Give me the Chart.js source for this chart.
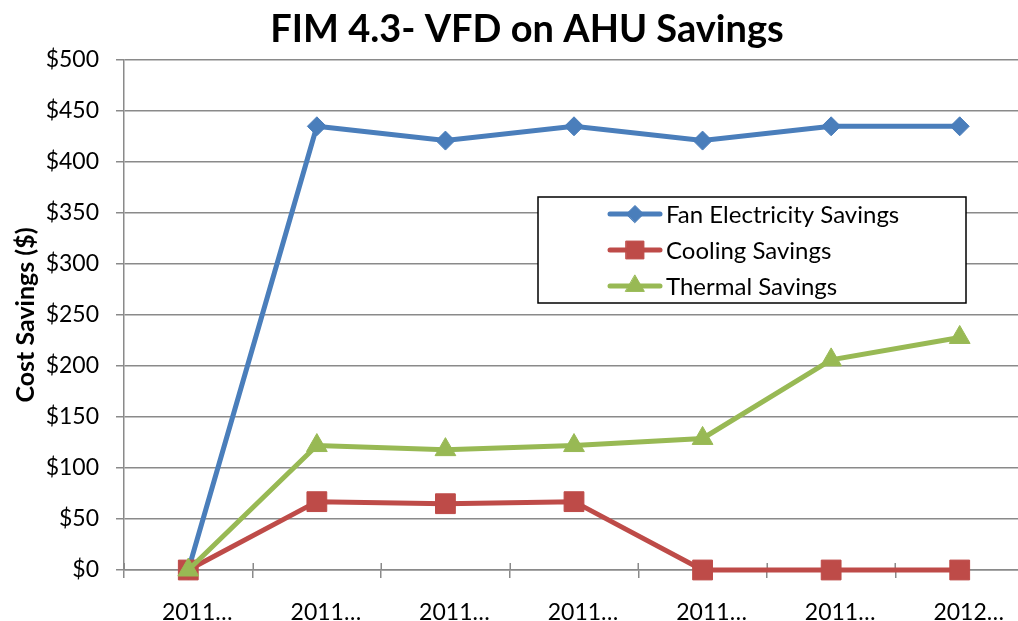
<!DOCTYPE html>
<html><head><meta charset="utf-8">
<script src="https://cdn.jsdelivr.net/npm/chart.js@4.4.1/dist/chart.umd.min.js"></script>
<style>html,body{margin:0;padding:0;overflow:hidden;background:#fff}#wrap{position:absolute;left:0;top:0;width:1039px;height:621px}</style>
</head><body><div id="wrap"><canvas id="c" width="1039" height="621"></canvas></div>
<script>
const chartTitle = 'FIM 4.3- VFD on AHU Savings';
const yAxisTitle = 'Cost Savings ($)';
const categories = ['2011…', '2011…', '2011…', '2011…', '2011…', '2011…', '2012…'];
const seriesNames = ['Fan Electricity Savings', 'Cooling Savings', 'Thermal Savings'];
const fanSavings = [0, 435, 421, 435, 421, 435, 435];
const coolingSavings = [0, 67, 65, 67, 0, 0, 0];
const thermalSavings = [0, 122, 118, 122, 129, 206, 228];
const yMin = 0, yMax = 500, yStep = 50;

const FONT = 'Lato, "Open Sans", sans-serif';
const GRID = '#8a8a8a';

const titlePlugin = {
  id: 'titleDraw',
  afterDraw(chart) {
    const ctx = chart.ctx;
    ctx.save();
    ctx.font = 'bold 38px ' + FONT;
    ctx.fillStyle = '#000';
    ctx.textAlign = 'center';
    ctx.textBaseline = 'middle';
    ctx.fillText(chartTitle, 527, 30);
    ctx.restore();
  }
};

const crossTicks = {
  id: 'crossTicks',
  beforeDatasetsDraw(chart) {
    const xs = chart.scales.x, ctx = chart.ctx, b = chart.chartArea.bottom;
    const step = xs.getPixelForValue(1) - xs.getPixelForValue(0);
    ctx.save();
    ctx.strokeStyle = GRID; ctx.lineWidth = 1.5;
    for (let i = 0; i <= categories.length; i++) {
      const x = Math.round(xs.getPixelForValue(0) - step / 2 + i * step) + 0.25;
      ctx.beginPath(); ctx.moveTo(x, b - 7); ctx.lineTo(x, b); ctx.stroke();
    }
    ctx.restore();
  }
};

const boxLegend = {
  id: 'boxLegend',
  afterDraw(chart) {
    const ctx = chart.ctx;
    const bx = 538, by = 197, bw = 428, bh = 106;
    ctx.save();
    ctx.fillStyle = '#fff';
    ctx.fillRect(bx, by, bw, bh);
    ctx.strokeStyle = '#000'; ctx.lineWidth = 1.5;
    ctx.strokeRect(bx, by, bw, bh);
    chart.data.datasets.forEach((ds, i) => {
      const y = 214 + i * 36;
      ctx.strokeStyle = ds.borderColor; ctx.lineWidth = 5; ctx.lineCap = 'round';
      ctx.beginPath(); ctx.moveTo(610, y); ctx.lineTo(660, y); ctx.stroke();
      ctx.fillStyle = ds.pointBackgroundColor;
      ctx.strokeStyle = ds.pointBackgroundColor;
      ctx.lineWidth = 1;
      Chart.helpers.drawPoint(ctx, {pointStyle: ds.pointStyle, radius: ds.pointRadius * 0.9, borderWidth: 1, rotation: 0}, 635, y);
      ctx.fillStyle = '#000';
      ctx.font = '24px ' + FONT;
      ctx.textAlign = 'left'; ctx.textBaseline = 'middle';
      ctx.fillText(seriesNames[i], 666, y + 1);
    });
    ctx.restore();
  }
};

function mkDs(label, data, line, fill, style, r, order) {
  return {
    label, data, borderColor: line, backgroundColor: fill, borderWidth: 5,
    pointStyle: style, pointRadius: r, pointHoverRadius: r,
    pointBackgroundColor: fill, pointBorderColor: fill, pointBorderWidth: 1,
    tension: 0, order, clip: false
  };
}

new Chart(document.getElementById('c'), {
  type: 'line',
  data: {
    labels: categories,
    datasets: [
      mkDs(seriesNames[0], fanSavings, '#4A7EBB', '#4A7EBB', 'rectRot', 9.5, 3),
      mkDs(seriesNames[1], coolingSavings, '#BE4B48', '#BE4B48', 'rect', 14, 2),
      mkDs(seriesNames[2], thermalSavings, '#98B954', '#98B954', 'triangle', 12, 1)
    ]
  },
  options: {
    responsive: false,
    animation: false,
    events: [],
    layout: { padding: { left: 0, right: 0, top: 60, bottom: 0 } },
    plugins: { legend: { display: false }, title: { display: false }, tooltip: { enabled: false } },
    scales: {
      x: {
        offset: true,
        grid: { offset: true, drawOnChartArea: false, drawTicks: true, tickLength: 8, color: GRID, lineWidth: 1.5 },
        border: { color: GRID, width: 1.5 },
        ticks: { font: { family: FONT, size: 23 }, color: '#000', padding: 21, labelOffset: 9, maxRotation: 0, autoSkip: false },
        afterFit(s) { s.height = 51; }
      },
      y: {
        min: yMin, max: yMax,
        grid: { color: GRID, lineWidth: 1.5, tickLength: 8, drawTicks: true },
        border: { color: GRID, width: 1.5 },
        ticks: { stepSize: yStep, font: { family: FONT, size: 23 }, color: '#000', padding: 17, callback: v => '$' + v },
        title: { display: true, text: yAxisTitle, font: { family: FONT, size: 25, weight: 'bold' }, color: '#000', padding: { top: 11, bottom: 0 } },
        afterFit(s) { s.width = 124; }
      }
    }
  },
  plugins: [crossTicks, titlePlugin, boxLegend]
});
</script>
</body></html>
